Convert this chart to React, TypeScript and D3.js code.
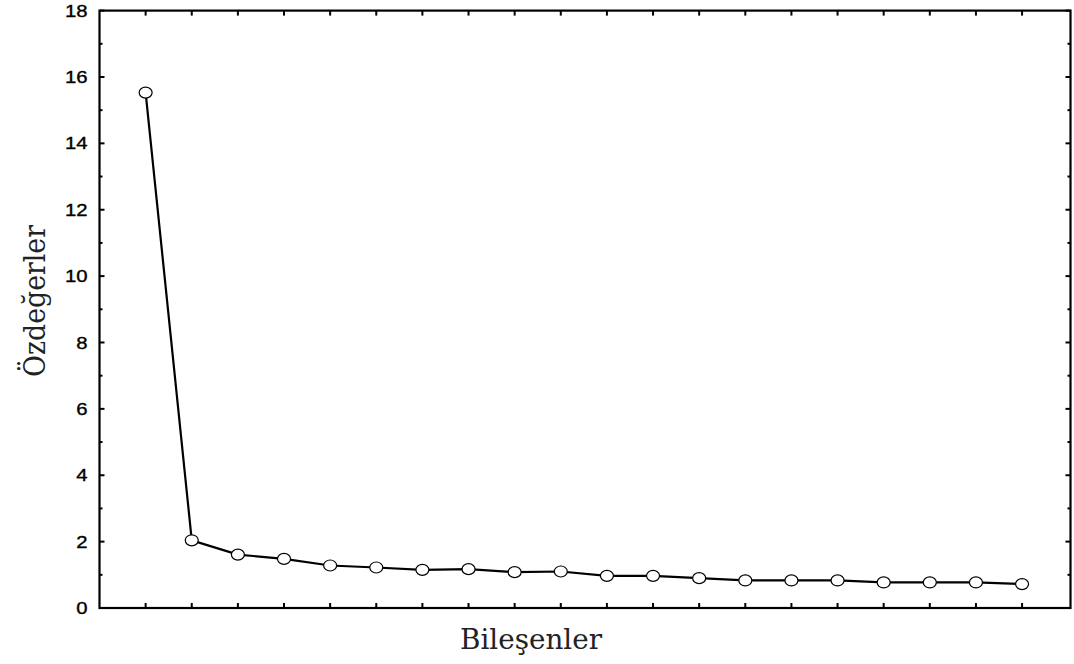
import React from 'react';
import * as d3 from 'd3';

const components = d3.range(1, 21);
const eigenvalues = [
  15.53, 2.04, 1.61, 1.48, 1.28, 1.22, 1.15, 1.17, 1.08, 1.1,
  0.97, 0.97, 0.9, 0.83, 0.83, 0.83, 0.77, 0.77, 0.77, 0.72,
];
const yTicks = [0, 2, 4, 6, 8, 10, 12, 14, 16, 18];
const yMinor = [1, 3, 5, 7, 9, 11, 13, 15, 17];

const W = 1074;
const H = 664;
const left = 99.5;
const right = 1070.5;
const top = 10.6;
const bottom = 608;

const App = () => {
  const x = d3.scaleLinear().domain([0, 21.05]).range([left, right]);
  const y = d3.scaleLinear().domain([0, 18]).range([bottom, top]);

  const line = d3
    .line<number>()
    .x((_, i) => x(components[i]))
    .y((d) => y(d));

  const tickFont = '"Liberation Sans", Arial, sans-serif';
  const titleFont = '"DejaVu Serif", "Liberation Serif", serif';

  return (
    <svg
      width={W}
      height={H}
      style={{ position: 'absolute', left: 0, top: 0, background: '#fff' }}
    >
      {/* frame */}
      <rect
        x={left}
        y={top}
        width={right - left}
        height={bottom - top}
        fill="none"
        stroke="#000"
        strokeWidth={2.2}
      />

      {/* y ticks, left + right */}
      {yTicks.map((t) => (
        <g key={'y' + t}>
          <line x1={left} x2={left + 5} y1={y(t)} y2={y(t)} stroke="#000" strokeWidth={2} />
          <line x1={right} x2={right - 5} y1={y(t)} y2={y(t)} stroke="#000" strokeWidth={2} />
          <text
            x={87.5}
            y={y(t)}
            dy="0.36em"
            textAnchor="end"
            fontFamily={tickFont}
            fontSize={17}
            textLength={String(t).length * 11.3}
            lengthAdjust="spacingAndGlyphs"
            fill="#000"
            stroke="#000"
            strokeWidth={0.35}
          >
            {t}
          </text>
        </g>
      ))}
      {yMinor.map((t) => (
        <g key={'m' + t}>
          <line x1={left} x2={left + 3} y1={y(t)} y2={y(t)} stroke="#000" strokeWidth={2} />
          <line x1={right} x2={right - 3} y1={y(t)} y2={y(t)} stroke="#000" strokeWidth={2} />
        </g>
      ))}

      {/* x ticks, bottom + top */}
      {components.map((c) => (
        <g key={'x' + c}>
          <line x1={x(c)} x2={x(c)} y1={bottom} y2={bottom - 5} stroke="#000" strokeWidth={2} />
          <line x1={x(c)} x2={x(c)} y1={top} y2={top + 5} stroke="#000" strokeWidth={2} />
        </g>
      ))}

      {/* series */}
      <path d={line(eigenvalues) || ''} fill="none" stroke="#000" strokeWidth={2.2} />
      {eigenvalues.map((v, i) => (
        <ellipse
          key={i}
          cx={x(components[i])}
          cy={y(v)}
          rx={6.5}
          ry={5.5}
          fill="#fff"
          stroke="#000"
          strokeWidth={1.2}
        />
      ))}

      {/* titles */}
      <text
        x={531}
        y={649}
        textAnchor="middle"
        fontFamily={titleFont}
        fontSize={27}
        textLength={142}
        lengthAdjust="spacingAndGlyphs"
        fill="#222"
      >
        Bileşenler
      </text>
      <text
        transform={`translate(45, 301) rotate(-90)`}
        textAnchor="middle"
        fontFamily={titleFont}
        fontSize={30}
        textLength={152}
        lengthAdjust="spacingAndGlyphs"
        fill="#222"
      >
        Özdeğerler
      </text>
    </svg>
  );
};

export default App;
